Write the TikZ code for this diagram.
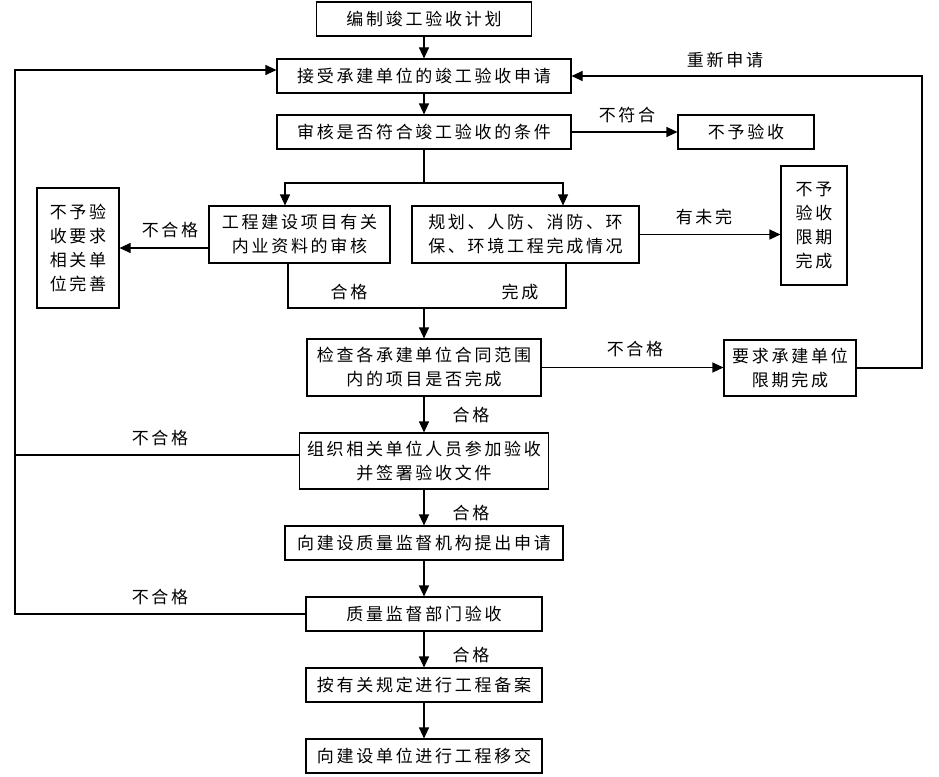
\documentclass[tikz,border=0pt]{standalone}
\usepackage{fontspec}
\newfontfamily\cjk[LetterSpace=16]{Noto Sans CJK SC}
\usepackage{tikz}
\usetikzlibrary{arrows.meta, positioning, calc}

\begin{document}
\begin{tikzpicture}[
    x=1pt, y=-1pt,              % pixel-like grid of the drawing
    line width=1.1pt,
    arr/.style={-{Triangle[length=11pt,width=10pt]}},
    box/.style={draw, rectangle, align=center, inner sep=0pt,
                font=\cjk\fontsize{17}{24}\selectfont},
    lab/.style={font=\cjk\fontsize{17}{24}\selectfont, inner sep=0pt},
]
\useasboundingbox (0,0) rectangle (939,776);

% -------------------------------------------------
% Main column
% -------------------------------------------------
\node[box, minimum width=215pt, minimum height=34pt] (plan)     at (424,19)    {编制竣工验收计划};
\node[box, minimum width=294pt, minimum height=34pt] (apply)    at (424,76)    {接受承建单位的竣工验收申请};
\node[box, minimum width=294pt, minimum height=34pt] (check)    at (424,132)   {审核是否符合竣工验收的条件};
\node[box, minimum width=136pt, minimum height=34pt] (reject)   at (746,132)   {不予验收};

\node[box, minimum width=181pt, minimum height=57pt] (docs)     at (299.5,234.5) {工程建设项目有关\\内业资料的审核};
\node[box, minimum width=227pt, minimum height=57pt] (works)    at (525.5,234.5) {规划、人防、消防、环\\保、环境工程完成情况};
\node[box, minimum width=82pt,  minimum height=120pt] (fixdocs) at (78,248)    {不予验\\收要求\\相关单\\位完善};
\node[box, minimum width=66pt,  minimum height=119pt] (deadline) at (814,225.5) {不予\\验收\\限期\\完成};

\node[box, minimum width=234pt, minimum height=57pt] (contract) at (424,367.5) {检查各承建单位合同范围\\内的项目是否完成};
\node[box, minimum width=132pt, minimum height=56pt] (demand)   at (790,368)   {要求承建单位\\限期完成};

\node[box, minimum width=249pt, minimum height=56pt] (organize) at (424,461)   {组织相关单位人员参加验收\\并签署验收文件};
\node[box, minimum width=278pt, minimum height=34pt] (submit)   at (424,543)   {向建设质量监督机构提出申请};
\node[box, minimum width=236pt, minimum height=34pt] (inspect)  at (424,614)   {质量监督部门验收};
\node[box, minimum width=236pt, minimum height=34pt] (record)   at (424,685)   {按有关规定进行工程备案};
\node[box, minimum width=236pt, minimum height=34pt] (handover) at (424,756)   {向建设单位进行工程移交};

% helper points
\coordinate (split) at (424,183);
\coordinate (merge) at (424,308);
\coordinate (back)  at (922,76);
\coordinate (loop)  at (15,70);

% -------------------------------------------------
% Connectors
% -------------------------------------------------
\draw[arr] (plan) -- (apply);
\draw[arr] (apply) -- (check);
\draw[arr] (check) -- (reject);
\node[lab] (l1) at (627,115) {不符合};

\draw (check) -- (split);
\draw[arr] (split) -| ([xshift=-14.5pt]docs.north);
\draw[arr] (split) -| ([xshift=37.5pt]works.north);

\draw[arr] (docs.west |- fixdocs.east) -- (fixdocs.east);
\node[lab] (l2) at (170,230) {不合格};
\draw[arr] (works.east) -- (works.east -| deadline.west);
\node[lab] (l3) at (704,217) {有未完};

\draw ([xshift=-11.5pt]docs.south) |- (merge) -| ([xshift=40.5pt]works.south);
\node[lab] (l4) at (349,292) {合格};
\node[lab] (l5) at (520,292) {完成};
\draw[arr] (merge) -- (contract);

\draw[arr] (contract) -- (contract -| demand.west);
\node[lab] (l6) at (635,349) {不合格};
\draw[arr] (demand.east) -| (back) -- (apply.east);
\node[lab] (l7) at (725,60) {重新申请};

\draw[arr] (contract) -- (organize);
\node[lab] (l8) at (471,415) {合格};
\draw[arr] (organize) -- (submit);
\node[lab] (l9) at (471,513) {合格};
\draw[arr] (submit) -- (inspect);
\draw[arr] (inspect) -- (record);
\node[lab] (l10) at (471,655) {合格};
\draw[arr] (record) -- (handover);

% failed acceptance goes back to the application
\draw ([yshift=6pt]organize.west) -- ([yshift=6pt]organize.west -| loop);
\node[lab] (l11) at (160,438) {不合格};
\draw[arr] (inspect.west) -| (loop) -- (loop -| apply.west);
\node[lab] (l12) at (160,597) {不合格};

\end{tikzpicture}
\end{document}
